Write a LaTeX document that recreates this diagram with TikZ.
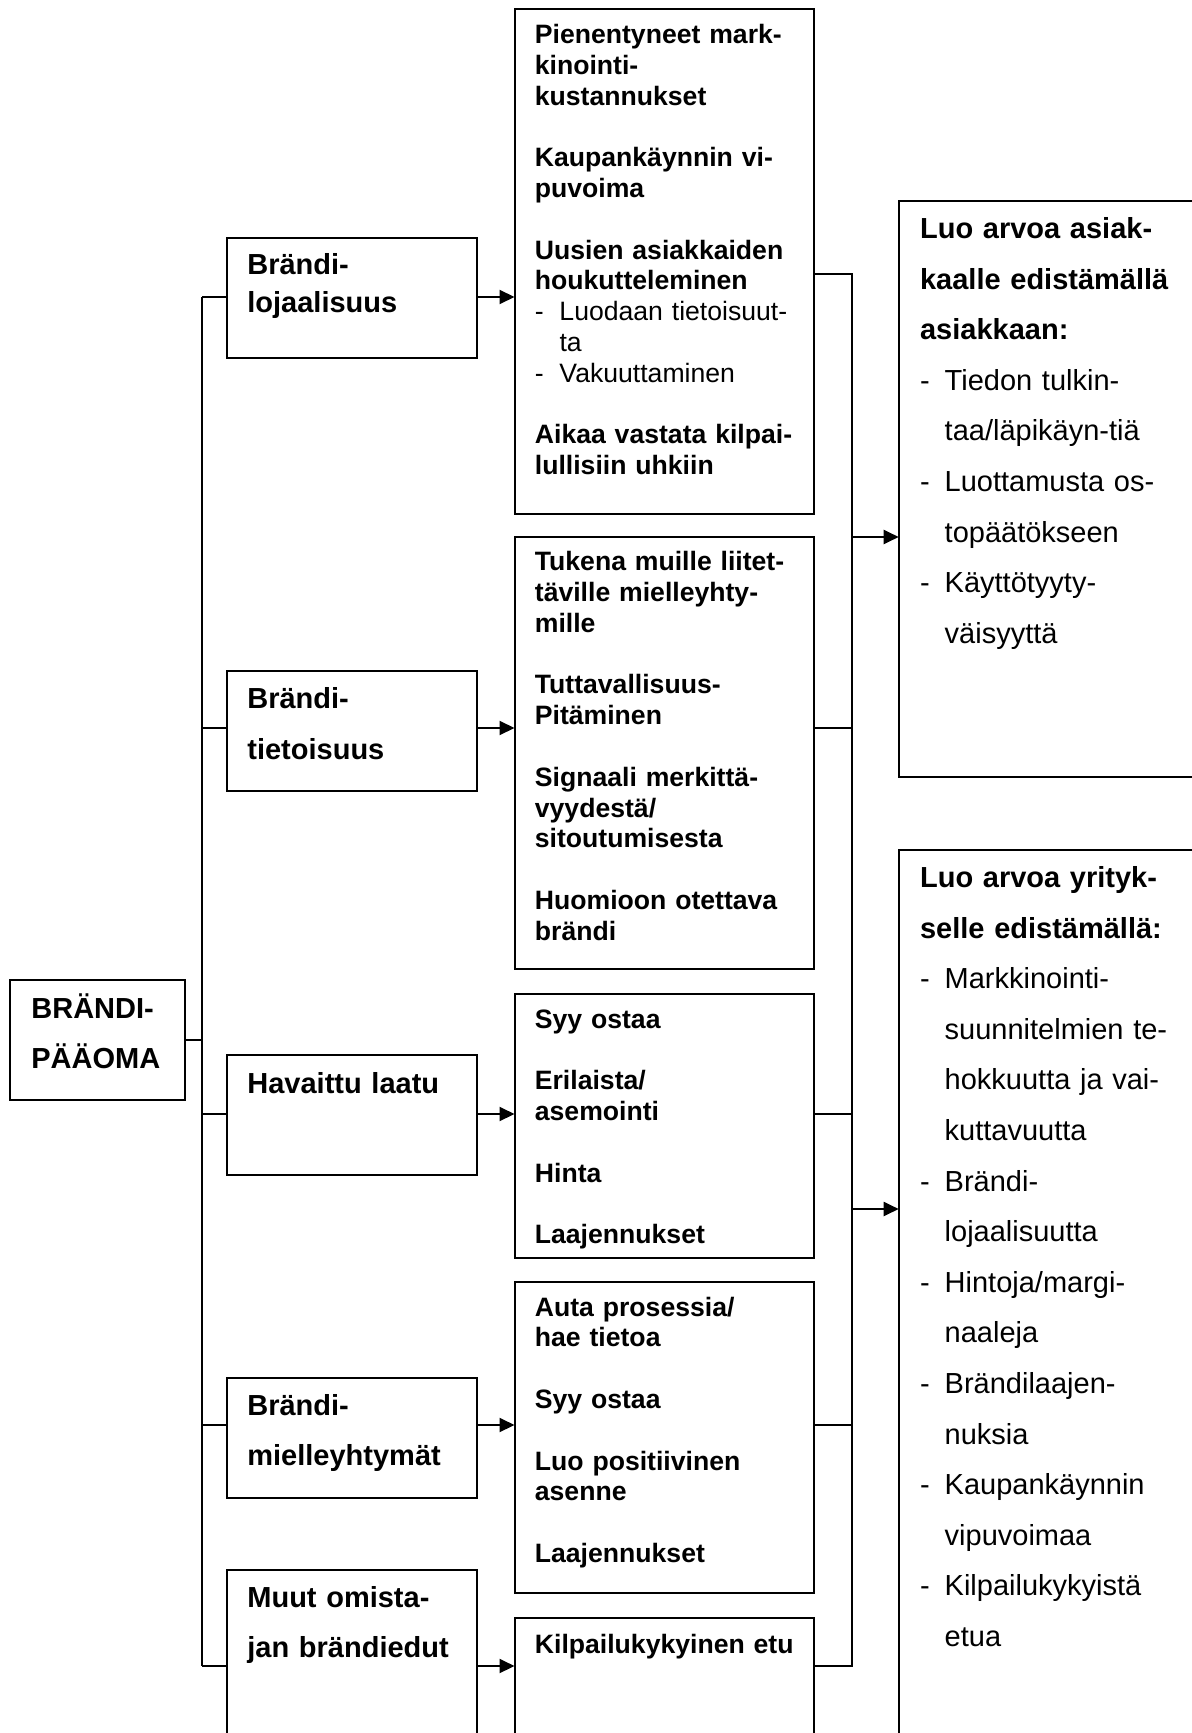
\documentclass[tikz,border=0pt]{standalone}
\usepackage{fontspec}
\setmainfont{Liberation Sans}
\usetikzlibrary{arrows.meta}

\tikzset{
  box/.style={draw, line width=1pt, anchor=north west, inner sep=0pt, outer sep=0pt},
  line/.style={line width=1pt},
  arr/.style={line width=1pt, -{Triangle[length=7.5pt,width=7pt]}},
  bigtext/.style={anchor=base west, inner sep=0pt, text width=170pt, align=left,
    font=\bfseries\fontsize{14.5pt}{25.3pt}\selectfont},
  smalltext/.style={anchor=base west, inner sep=0pt, text width=150pt, align=left,
    font=\bfseries\fontsize{13.3pt}{15.4pt}\selectfont}
}
% dash items with a hanging indent
\newcommand{\itm}[1]{{\mdseries\makebox[12.3pt][l]{-}#1}}
\newcommand{\contline}[1]{{\mdseries\hspace*{12.3pt}#1}}

\begin{document}
\begin{tikzpicture}[x=0.5pt, y=-0.5pt]
  \useasboundingbox (0,0) rectangle (1192,1733);
  \clip (0,0) rectangle (1192,1733);

  % Brand equity
  \node[box, minimum width=87.5pt, minimum height=60pt] (P) at (10,980) {};

  % Equity components
  \foreach \n/\y/\h in {L1/238/60, L2/670.5/60.25, L3/1054.7/60, L4/1378/60, L5/1570/120}
    \node[box, minimum width=125.25pt, minimum height=\h pt] (\n) at (226.5,\y) {};

  % Benefit boxes
  \foreach \n/\y/\h in {A/9/252.3, B/537/216, C/994/131.75, D/1282/155.5, E/1618/100}
    \node[box, minimum width=149.75pt, minimum height=\h pt] (\n) at (514.5,\y) {};

  % Value boxes
  \node[box, minimum width=200pt, minimum height=288pt] (R1) at (898.7,201) {};
  \node[box, minimum width=200pt, minimum height=500pt] (R2) at (898.7,850) {};

  % Rows and buses
  \foreach \i/\y in {1/297, 2/728, 3/1114, 4/1425, 5/1666}
    \coordinate (row\i) at (0,\y);
  \coordinate (outA) at (0,273.6);
  \coordinate (cust) at (0,537);
  \coordinate (firm) at (0,1209);
  \coordinate (bus) at (202,0);
  \coordinate (rbus) at (851.5,0);

  % Left tree
  \draw[line] (bus |- row1) -- (bus |- row5);
  \draw[line] (P.east) -- (P.east -| bus);
  \foreach \i/\n/\m in {1/L1/A, 2/L2/B, 3/L3/C, 4/L4/D, 5/L5/E} {
    \draw[line] (bus |- row\i) -- (\n.west |- row\i);
    \draw[arr] (\n.east |- row\i) -- (\m.west |- row\i);
  }

  % Right collector
  \draw[line] (A.east |- outA) -- (rbus |- outA) -- (rbus |- row5) -- (E.east |- row5);
  \foreach \i/\m in {2/B, 3/C, 4/D}
    \draw[line] (\m.east |- row\i) -- (rbus |- row\i);
  \draw[arr] (rbus |- cust) -- (R1.west |- cust);
  \draw[arr] (rbus |- firm) -- (R2.west |- firm);

  % Texts
  \node[bigtext] (Pt) at ([shift={(21,38)}]P.north west) {BRÄNDI-\\PÄÄOMA};
  \node[bigtext, font=\bfseries\fontsize{14.5pt}{18.75pt}\selectfont] (L1t)
    at ([shift={(20.5,37)}]L1.north west) {Brändi-\\lojaalisuus};
  \node[bigtext] (L2t) at ([shift={(20.5,38)}]L2.north west) {Brändi-\\tietoisuus};
  \node[bigtext] (L3t) at ([shift={(20.5,39)}]L3.north west) {Havaittu laatu};
  \node[bigtext] (L4t) at ([shift={(20.5,37)}]L4.north west) {Brändi-\\mielleyhtymät};
  \node[bigtext] (L5t) at ([shift={(20.5,37)}]L5.north west) {Muut omista-\\jan brändiedut};

  \node[smalltext] (At) at ([shift={(20,34.6)}]A.north west)
    {Pienentyneet mark-\\kinointi-\\kustannukset\\[15.4pt]Kaupankäynnin vi-\\puvoima\\[15.4pt]Uusien asiakkaiden\\houkutteleminen\\\itm{Luodaan tietoisuut-}\\\contline{ta}\\\itm{Vakuuttaminen}\\[15.4pt]Aikaa vastata kilpai-\\lullisiin uhkiin};
  \node[smalltext] (Bt) at ([shift={(20,33.6)}]B.north west)
    {Tukena muille liitet-\\täville mielleyhty-\\mille\\[15.4pt]Tuttavallisuus-\\Pitäminen\\[15.4pt]Signaali merkittä-\\vyydestä/\\sitoutumisesta\\[15.4pt]Huomioon otettava\\brändi};
  \node[smalltext] (Ct) at ([shift={(20,34)}]C.north west)
    {Syy ostaa\\[15.4pt]Erilaista/\\asemointi\\[15.4pt]Hinta\\[15.4pt]Laajennukset};
  \node[smalltext] (Dt) at ([shift={(20,34)}]D.north west)
    {Auta prosessia/\\hae tietoa\\[15.4pt]Syy ostaa\\[15.4pt]Luo positiivinen\\asenne\\[15.4pt]Laajennukset};
  \node[smalltext] (Et) at ([shift={(20,35)}]E.north west) {Kilpailukykyinen etu};

  \node[bigtext] (R1t) at ([shift={(21,37.6)}]R1.north west)
    {Luo arvoa asiak-\\kaalle edistämällä\\asiakkaan:\\\itm{Tiedon tulkin-}\\\contline{taa/läpikäyn-tiä}\\\itm{Luottamusta os-}\\\contline{topäätökseen}\\\itm{Käyttötyyty-}\\\contline{väisyyttä}};
  \node[bigtext] (R2t) at ([shift={(21,37.5)}]R2.north west)
    {Luo arvoa yrityk-\\selle edistämällä:\\\itm{Markkinointi-}\\\contline{suunnitelmien te-}\\\contline{hokkuutta ja vai-}\\\contline{kuttavuutta}\\\itm{Brändi-}\\\contline{lojaalisuutta}\\\itm{Hintoja/margi-}\\\contline{naaleja}\\\itm{Brändilaajen-}\\\contline{nuksia}\\\itm{Kaupankäynnin}\\\contline{vipuvoimaa}\\\itm{Kilpailukykyistä}\\\contline{etua}};
\end{tikzpicture}
\end{document}
